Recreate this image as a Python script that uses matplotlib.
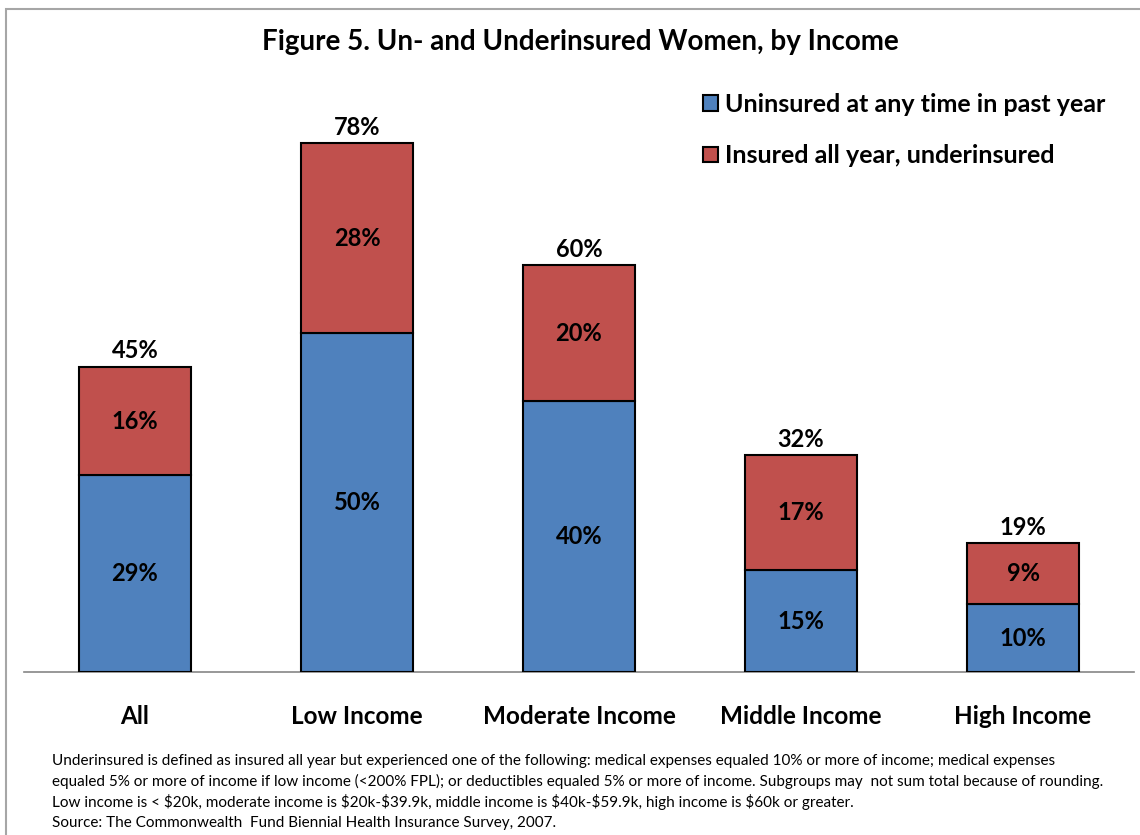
import matplotlib.pyplot as plt
from matplotlib.patches import Rectangle, Patch

categories = ["All", "Low Income", "Moderate Income", "Middle Income", "High Income"]
uninsured = [29, 50, 40, 15, 10]
underinsured = [16, 28, 20, 17, 9]
totals = [45, 78, 60, 32, 19]

series_names = ["Uninsured at any time in past year", "Insured all year, underinsured"]
title = "Figure 5. Un- and Underinsured Women, by Income"
notes = [
    "Underinsured is defined as insured all year but experienced one of the following: medical expenses equaled 10% or more of income; medical expenses",
    "equaled 5% or more of income if low income (<200% FPL); or deductibles equaled 5% or more of income. Subgroups may  not sum total because of rounding.",
    r"Low income is < \$20k, moderate income is \$20k-\$39.9k, middle income is \$40k-\$59.9k, high income is \$60k or greater.",
    "Source: The Commonwealth  Fund Biennial Health Insurance Survey, 2007.",
]

blue = "#4F81BD"
red = "#C0504D"

plt.rcParams['font.family'] = ['Lato', 'DejaVu Sans']

W, H = 1140, 835
fig = plt.figure(figsize=(W / 100, H / 100), dpi=100)

# outer frame (cut off at right and bottom in the reference)
fig.add_artist(Rectangle((6 / W, -0.05), 1.2, (H - 9) / H + 0.05, transform=fig.transFigure,
                         fill=False, edgecolor="#a6a6a6", linewidth=1.5))

ax = fig.add_axes([24 / W, 163 / H, 1110 / W, 610 / H])
x = range(len(categories))
bw = 0.505
ax.bar(x, uninsured, bw, color=blue, edgecolor="black", linewidth=1.5, zorder=3)
ax.bar(x, underinsured, bw, bottom=uninsured, color=red, edgecolor="black", linewidth=1.5, zorder=3)

for i in x:
    ax.text(i, uninsured[i] / 2, f"{uninsured[i]}%", ha="center", va="center",
            fontsize=17, fontweight="bold")
    ax.text(i, uninsured[i] + underinsured[i] / 2, f"{underinsured[i]}%", ha="center", va="center",
            fontsize=17, fontweight="bold")
    ax.annotate(f"{totals[i]}%", (i, totals[i]), xytext=(0, 16), textcoords="offset pixels",
                ha="center", va="center", fontsize=17, fontweight="bold")

ax.set_xlim(-0.5, 4.5)
ax.set_ylim(0, 90)
for s in ["top", "right", "left"]:
    ax.spines[s].set_visible(False)
ax.spines["bottom"].set_color("#868686")
ax.spines["bottom"].set_linewidth(1.2)
ax.set_yticks([])
ax.set_xticks(list(x))
ax.set_xticklabels(categories, fontsize=17.5, fontweight="bold")
ax.tick_params(axis="x", length=0, pad=24)

fig.text(580 / W, 1 - 42 / H, title, ha="center", va="center", fontsize=20, fontweight="bold")

handles = [Patch(facecolor=blue, edgecolor="black", linewidth=1.5),
           Patch(facecolor=red, edgecolor="black", linewidth=1.5)]
fig.legend(handles, series_names, loc="upper left", bbox_to_anchor=(680 / W, 1 - 70 / H),
           frameon=False, prop={"weight": "bold", "size": 18},
           handlelength=0.6, handleheight=0.6, handletextpad=0.3, labelspacing=1.15)

for k, line in enumerate(notes):
    fig.text(52 / W, 1 - (761 + k * 20.5) / H, line, ha="left", va="center", fontsize=11)

fig.savefig("out.png", dpi=100)
